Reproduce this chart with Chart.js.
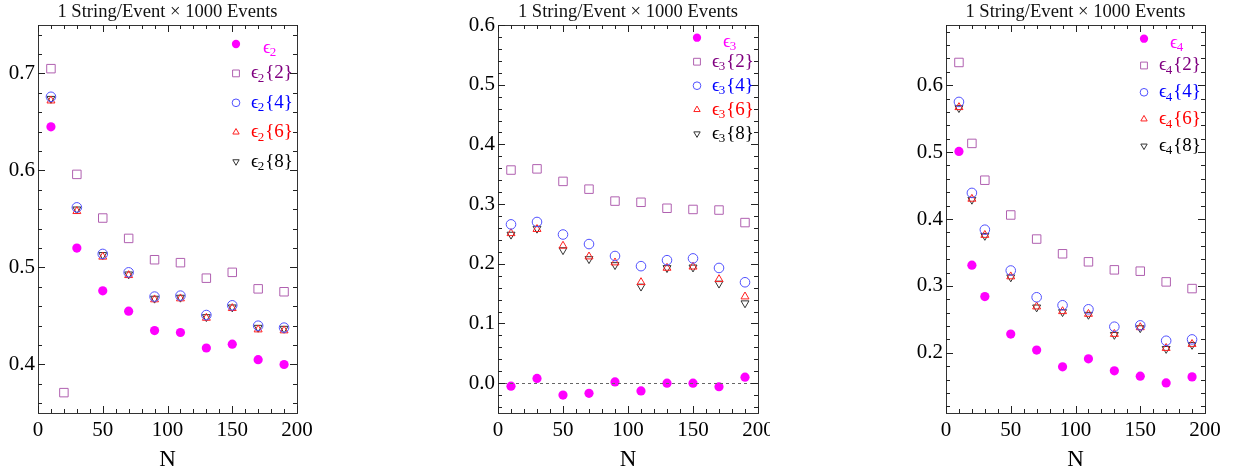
<!DOCTYPE html>
<html>
<head>
<meta charset="utf-8">
<script src="https://cdn.jsdelivr.net/npm/chart.js@4.4.1/dist/chart.umd.min.js"></script>
<style>
  body { margin: 0; background: #fff; width: 1238px; height: 474px; overflow: hidden; position: relative; }
  .panel { position: absolute; top: 0; height: 474px; overflow: hidden; }
</style>
</head>
<body>
<div class="panel" style="left:0;width:320px"><canvas id="c1" width="320" height="474"></canvas></div>
<div class="panel" style="left:440px;width:330px"><canvas id="c2" width="345" height="474"></canvas></div>
<div class="panel" style="left:905px;width:333px"><canvas id="c3" width="333" height="474"></canvas></div>
<script>
'use strict';

// N values (x axis)
const nBase = [10, 30, 50, 70, 90, 110, 130, 150, 170, 190];
const nWith20 = [10, 20, 30, 50, 70, 90, 110, 130, 150, 170, 190];

// Panel 1 : eps2
const eps2   = [0.645, 0.520, 0.476, 0.455, 0.435, 0.433, 0.417, 0.421, 0.405, 0.400];
const eps2_2 = [0.705, 0.371, 0.596, 0.551, 0.530, 0.508, 0.505, 0.489, 0.495, 0.478, 0.475]; // on nWith20
const eps2_4 = [0.676, 0.562, 0.514, 0.495, 0.470, 0.471, 0.451, 0.461, 0.440, 0.438];
const eps2_6 = [0.672, 0.558, 0.511, 0.492, 0.467, 0.468, 0.448, 0.458, 0.436, 0.435];
const eps2_8 = [0.674, 0.560, 0.513, 0.493, 0.468, 0.469, 0.449, 0.459, 0.438, 0.437];

// Panel 2 : eps3
const eps3   = [-0.005, 0.008, -0.020, -0.017, 0.002, -0.013, 0.000, 0.000, -0.006, 0.010];
const eps3_2 = [0.357, 0.359, 0.338, 0.325, 0.305, 0.303, 0.293, 0.291, 0.290, 0.269];
const eps3_4 = [0.266, 0.270, 0.249, 0.233, 0.213, 0.196, 0.206, 0.209, 0.193, 0.169];
const eps3_6 = [0.251, 0.258, 0.230, 0.212, 0.202, 0.169, 0.193, 0.195, 0.174, 0.145];
const eps3_8 = [0.249, 0.259, 0.223, 0.208, 0.198, 0.162, 0.193, 0.194, 0.167, 0.134];

// Panel 3 : eps4 (all on nWith20)
const eps4   = [0.501, 0.331, 0.284, 0.228, 0.204, 0.179, 0.191, 0.173, 0.165, 0.155, 0.164];
const eps4_2 = [0.634, 0.513, 0.458, 0.406, 0.370, 0.348, 0.336, 0.324, 0.322, 0.306, 0.296];
const eps4_4 = [0.575, 0.439, 0.384, 0.323, 0.283, 0.271, 0.265, 0.239, 0.241, 0.218, 0.220];
const eps4_6 = [0.567, 0.430, 0.376, 0.314, 0.269, 0.262, 0.258, 0.228, 0.238, 0.207, 0.213];
const eps4_8 = [0.566, 0.429, 0.375, 0.313, 0.268, 0.261, 0.257, 0.227, 0.237, 0.206, 0.212];

// tick labels
const xTicks = [0, 50, 100, 150, 200];
const yTicks1 = [0.4, 0.5, 0.6, 0.7];
const yTicks2 = [0.0, 0.1, 0.2, 0.3, 0.4, 0.5, 0.6];
const yTicks3 = [0.2, 0.3, 0.4, 0.5, 0.6];

const suffixes = ['', '{2}', '{4}', '{6}', '{8}'];
const titleText = '1 String/Event \u00d7 1000 Events';

const SERIF = '"Liberation Serif", "Times New Roman", "DejaVu Serif", serif';

// marker styles per series (same order as suffixes)
const styles = [
	{ pointStyle: 'circle',   rotation: 0,   radius: 4.6, fill: '#ff00ff', stroke: '#ff00ff', width: 0, text: '#ff00ff', legScale: 0.9 },
	{ pointStyle: 'rect',     rotation: 0,   radius: 6.0, fill: 'rgba(0,0,0,0)', stroke: '#b060b0', width: 1, text: '#800080', legScale: 0.8 },
	{ pointStyle: 'circle',   rotation: 0,   radius: 4.8, fill: 'rgba(0,0,0,0)', stroke: '#5050ff', width: 1, text: '#0000ff', legScale: 0.8 },
	{ pointStyle: 'triangle', rotation: 0,   radius: 4.6, fill: 'rgba(0,0,0,0)', stroke: '#ff2020', width: 1, text: '#ff0000', legScale: 0.8 },
	{ pointStyle: 'triangle', rotation: 180, radius: 4.6, fill: 'rgba(0,0,0,0)', stroke: '#333333', width: 1, text: '#000000', legScale: 0.8 }
];

function toPoints(ns, vals){
	return vals.map(function(v, i){ return { x: ns[i], y: v }; });
}

function makeDatasets(series){
	return series.map(function(s, i){
		const st = styles[i];
		return {
			label: s.label,
			data: toPoints(s.n, s.values),
			pointStyle: st.pointStyle,
			rotation: st.rotation,
			pointRadius: st.radius,
			pointHoverRadius: st.radius,
			backgroundColor: st.fill,
			borderColor: st.stroke,
			borderWidth: st.width,
			order: i
		};
	});
}

// frame, inward ticks, title, legend
const framePlugin = {
	id: 'frame',
	afterDraw(chart, args, opts){
		const ctx = chart.ctx;
		const a = chart.chartArea;
		const xs = chart.scales.x, ys = chart.scales.y;
		ctx.save();

		// zero reference line
		if( opts.zeroLine ){
			const y0 = Math.round(ys.getPixelForValue(0)) + 0.5;
			ctx.strokeStyle = '#666';
			ctx.lineWidth = 1;
			ctx.setLineDash([3, 3]);
			ctx.beginPath();
			ctx.moveTo(a.left, y0);
			ctx.lineTo(a.right, y0);
			ctx.stroke();
			ctx.setLineDash([]);
		}

		ctx.strokeStyle = '#333';
		ctx.lineWidth = 1;
		ctx.strokeRect(Math.round(a.left) + 0.5, Math.round(a.top) + 0.5, Math.round(a.right - a.left), Math.round(a.bottom - a.top));

		ctx.strokeStyle = '#222';
		ctx.beginPath();
		// x ticks
		for( let v = xs.min; v <= xs.max + 1e-9; v += opts.xMinor ){
			const major = xTicks.some(t => Math.abs(t - v) < 1e-6);
			const len = major ? 7 : 4;
			const px = Math.round(xs.getPixelForValue(v)) + 0.5;
			ctx.moveTo(px, a.bottom); ctx.lineTo(px, a.bottom - len);
			ctx.moveTo(px, a.top); ctx.lineTo(px, a.top + len);
		}
		// y ticks
		const start = Math.ceil(ys.min / opts.yMinor - 1e-6) * opts.yMinor;
		for( let v = start; v <= ys.max + 1e-9; v += opts.yMinor ){
			const major = opts.yTicks.some(t => Math.abs(t - v) < 1e-6);
			const len = major ? 7 : 4;
			const py = Math.round(ys.getPixelForValue(v)) + 0.5;
			ctx.moveTo(a.left, py); ctx.lineTo(a.left + len, py);
			ctx.moveTo(a.right, py); ctx.lineTo(a.right - len, py);
		}
		ctx.stroke();

		// title
		ctx.fillStyle = '#111';
		ctx.font = '18.6px ' + SERIF;
		ctx.textAlign = 'center';
		ctx.textBaseline = 'middle';
		ctx.fillText(titleText, (a.left + a.right) / 2, 12);

		// legend
		const lg = opts.legend;
		chart.data.datasets.forEach(function(ds, i){
			const st = styles[i];
			const mx = a.right - lg.dx;
			const my = a.top + lg.dy + i * lg.step;
			ctx.fillStyle = st.fill;
			ctx.strokeStyle = st.stroke;
			ctx.lineWidth = st.width;
			Chart.helpers.drawPoint(ctx, {
				pointStyle: st.pointStyle,
				rotation: st.rotation,
				radius: st.radius * st.legScale,
				borderWidth: st.width
			}, mx, my);

			let tx = mx + (i === 0 ? lg.firstText : lg.text);
			const ty = my + (i === 0 ? 4 : 0);
			ctx.fillStyle = st.text;
			ctx.textAlign = 'left';
			ctx.textBaseline = 'middle';
			ctx.font = '19px ' + SERIF;
			ctx.fillText('\u03f5', tx, ty);
			tx += ctx.measureText('\u03f5').width - 1;
			ctx.font = '13px ' + SERIF;
			ctx.fillText(lg.sub, tx, ty + 5);
			tx += ctx.measureText(lg.sub).width + 1;
			if( suffixes[i] ){
				ctx.font = '19px ' + SERIF;
				ctx.fillText(suffixes[i], tx, ty);
			}
		});

		ctx.restore();
	}
};

function makePanel(canvasId, cfg){
	return new Chart(document.getElementById(canvasId), {
		type: 'scatter',
		data: { datasets: makeDatasets(cfg.series) },
		plugins: [framePlugin],
		options: {
			responsive: false,
			animation: false,
			events: [],
			layout: { padding: { top: 25, right: cfg.padRight, bottom: 0, left: 0 } },
			scales: {
				x: {
					type: 'linear',
					min: 0, max: 200,
					grid: { display: false, drawTicks: false },
					border: { display: false },
					afterBuildTicks: function(s){ s.ticks = xTicks.map(v => ({ value: v })); },
					afterFit: function(s){ s.height = 61; },
					ticks: {
						autoSkip: false, maxRotation: 0, padding: 5, color: '#000',
						font: { family: SERIF, size: 21 },
						callback: v => String(v)
					},
					title: {
						display: true, text: 'N', color: '#000',
						font: { family: SERIF, size: 23 },
						padding: { top: 2, bottom: 0 }
					}
				},
				y: {
					type: 'linear',
					min: cfg.yMin, max: cfg.yMax,
					grid: { display: false, drawTicks: false },
					border: { display: false },
					afterBuildTicks: function(s){ s.ticks = cfg.yTicks.map(v => ({ value: v })); },
					afterFit: function(s){ s.width = cfg.yWidth; },
					ticks: {
						autoSkip: false, padding: 3, color: '#000',
						font: { family: SERIF, size: 21 },
						callback: v => Number(v).toFixed(1)
					}
				}
			},
			plugins: {
				legend: { display: false },
				tooltip: { enabled: false },
				frame: {
					zeroLine: cfg.zeroLine,
					xMinor: 10,
					yMinor: 0.02,
					yTicks: cfg.yTicks,
					legend: cfg.legend
				}
			}
		}
	});
}

makePanel('c1', {
	yMin: 0.35, yMax: 0.75, yTicks: yTicks1, yWidth: 38, padRight: 23, zeroLine: false,
	legend: { dx: 61, dy: 19, step: 29.4, text: 15, firstText: 27, sub: '2' },
	series: [
		{ label: 'eps2',    n: nBase,   values: eps2 },
		{ label: 'eps2{2}', n: nWith20, values: eps2_2 },
		{ label: 'eps2{4}', n: nBase,   values: eps2_4 },
		{ label: 'eps2{6}', n: nBase,   values: eps2_6 },
		{ label: 'eps2{8}', n: nBase,   values: eps2_8 }
	]
});

makePanel('c2', {
	yMin: -0.05, yMax: 0.6, yTicks: yTicks2, yWidth: 58, padRight: 27, zeroLine: true,
	legend: { dx: 61, dy: 12.7, step: 24, text: 15, firstText: 26, sub: '3' },
	series: [
		{ label: 'eps3',    n: nBase, values: eps3 },
		{ label: 'eps3{2}', n: nBase, values: eps3_2 },
		{ label: 'eps3{4}', n: nBase, values: eps3_4 },
		{ label: 'eps3{6}', n: nBase, values: eps3_6 },
		{ label: 'eps3{8}', n: nBase, values: eps3_8 }
	]
});

makePanel('c3', {
	yMin: 0.11, yMax: 0.69, yTicks: yTicks3, yWidth: 41, padRight: 33, zeroLine: false,
	legend: { dx: 61, dy: 13.7, step: 26.8, text: 15, firstText: 26, sub: '4' },
	series: [
		{ label: 'eps4',    n: nWith20, values: eps4 },
		{ label: 'eps4{2}', n: nWith20, values: eps4_2 },
		{ label: 'eps4{4}', n: nWith20, values: eps4_4 },
		{ label: 'eps4{6}', n: nWith20, values: eps4_6 },
		{ label: 'eps4{8}', n: nWith20, values: eps4_8 }
	]
});
</script>
</body>
</html>
